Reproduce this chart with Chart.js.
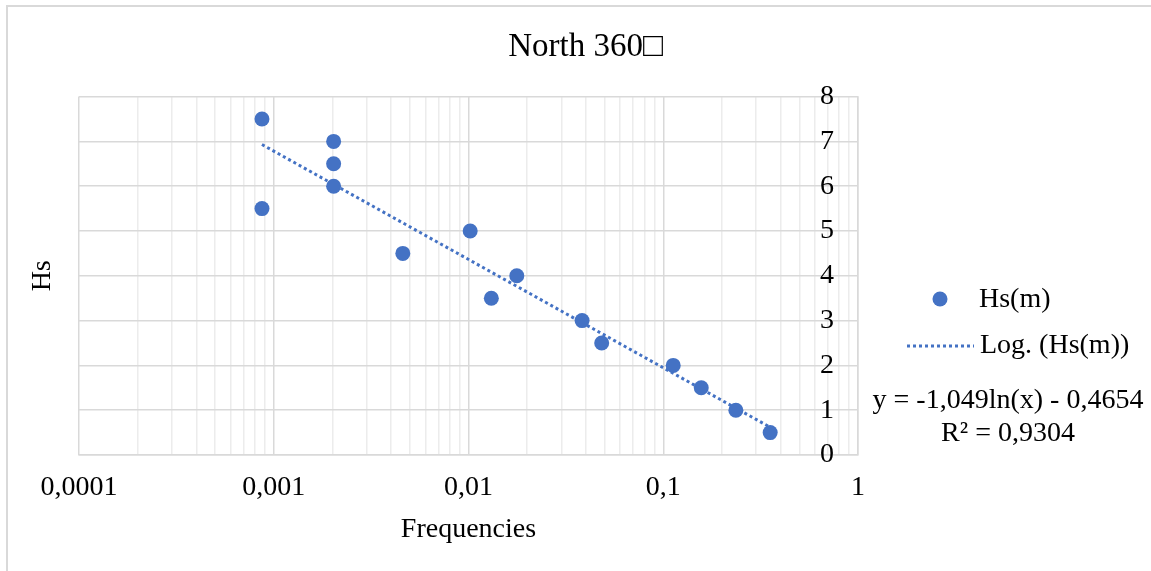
<!DOCTYPE html>
<html>
<head>
<meta charset="utf-8">
<script src="https://cdn.jsdelivr.net/npm/chart.js@4.4.1/dist/chart.umd.min.js"></script>
<style>
  html, body { margin: 0; padding: 0; background: #fff; }
  #wrap { position: relative; width: 1151px; height: 571px; }
</style>
</head>
<body>
<div id="wrap"><canvas id="chart"></canvas></div>
<script>
// ---- data ----
const freq = [0.00087, 0.00087, 0.00203, 0.00203, 0.00203, 0.0046, 0.0102, 0.0131, 0.0177, 0.0383, 0.0483, 0.1125, 0.1567, 0.236, 0.354];
const hs   = [7.5, 5.5, 7, 6.5, 6, 4.5, 5, 3.5, 4, 3, 2.5, 2, 1.5, 1, 0.5];
// logarithmic trend line end points (straight on a log x axis)
const trendFreq = [0.00087, 0.354];
const trendHs   = [6.93, 0.62];
const decades      = [0.0001, 0.001, 0.01, 0.1, 1];
const decadeLabels = ['0,0001', '0,001', '0,01', '0,1', '1'];
const eqLines = ['y = -1,049ln(x) - 0,4654', 'R\u00B2 = 0,9304'];

const BLUE = '#4472C4';
const SERIF = '"Liberation Serif", "Times New Roman", serif';
const MAJOR = '#d9d9d9', MINOR = '#ececec';

const isDecade = v => decades.some(d => Math.abs(v / d - 1) < 1e-6);

// outer frame of the chart (only top and left edges are visible)
const frame = {
  id: 'frame',
  beforeDraw(chart) {
    const ctx = chart.ctx;
    ctx.save();
    ctx.strokeStyle = '#d9d9d9';
    ctx.lineWidth = 2;
    ctx.beginPath();
    ctx.moveTo(7, 571); ctx.lineTo(7, 6); ctx.lineTo(1151, 6);
    ctx.stroke();
    ctx.restore();
  }
};

// legend + trend equation on the right side
const sideLegend = {
  id: 'sideLegend',
  afterDraw(chart) {
    const ctx = chart.ctx;
    const [pts, trend] = chart.data.datasets;
    ctx.save();
    ctx.fillStyle = pts.backgroundColor;
    ctx.beginPath(); ctx.arc(940, 299, 7.5, 0, Math.PI * 2); ctx.fill();

    ctx.strokeStyle = trend.borderColor;
    ctx.lineWidth = trend.borderWidth;
    ctx.setLineDash(trend.borderDash);
    ctx.beginPath(); ctx.moveTo(907, 346); ctx.lineTo(974, 346); ctx.stroke();
    ctx.setLineDash([]);

    ctx.font = '28px ' + SERIF;
    ctx.fillStyle = '#000';
    ctx.textBaseline = 'middle';
    ctx.textAlign = 'left';
    ctx.fillText(pts.label, 979, 300);
    ctx.fillText(trend.label, 980, 346);
    ctx.textAlign = 'center';
    ctx.fillText(eqLines[0], 1008, 401);
    ctx.fillText(eqLines[1], 1008, 434);
    ctx.restore();
  }
};

new Chart(document.getElementById('chart'), {
  type: 'scatter',
  data: {
    datasets: [
      {
        label: 'Hs(m)',
        data: freq.map((f, i) => ({ x: f, y: hs[i] })),
        backgroundColor: BLUE, borderColor: BLUE, borderWidth: 0,
        pointRadius: 7.5, pointHoverRadius: 7.5, order: 1
      },
      {
        label: 'Log. (Hs(m))',
        data: trendFreq.map((f, i) => ({ x: f, y: trendHs[i] })),
        showLine: true, borderColor: BLUE, backgroundColor: BLUE,
        borderWidth: 3, borderDash: [3, 3], pointRadius: 0, order: 2
      }
    ]
  },
  options: {
    responsive: true, maintainAspectRatio: false, animation: false,
    layout: { padding: { left: 20, top: 6, right: 0, bottom: 0 } },
    plugins: {
      legend: { display: false },
      tooltip: { enabled: false },
      title: {
        display: true, text: 'North 360\u25A1', color: '#000',
        font: { family: SERIF, size: 33, weight: 'normal' },
        padding: { top: 22, bottom: 29 }
      }
    },
    scales: {
      x: {
        type: 'logarithmic', min: 0.0001, max: 1,
        afterBuildTicks: s => {
          const t = [];
          decades.forEach(d => {
            t.push({ value: d });
            if (d < 1) for (let k = 2; k <= 9; k++) t.push({ value: k * d });
          });
          s.ticks = t;
        },
        afterFit: s => { s.height = 116; },
        ticks: {
          autoSkip: false, maxRotation: 0, minRotation: 0, padding: 16,
          color: '#000', font: { family: SERIF, size: 28 },
          callback: v => isDecade(v) ? decadeLabels[decades.findIndex(d => Math.abs(v / d - 1) < 1e-6)] : ''
        },
        grid: {
          drawTicks: false, lineWidth: 1.5,
          color: c => (c.tick && isDecade(c.tick.value)) ? MAJOR : MINOR
        },
        border: { color: MAJOR, width: 1.5 },
        title: {
          display: true, text: 'Frequencies', color: '#000',
          font: { family: SERIF, size: 28 }, padding: { top: 0, bottom: 25 }
        }
      },
      y: {
        position: 'right', min: 0, max: 8,
        afterFit: s => { s.width = 293; },
        ticks: {
          stepSize: 1, mirror: true, padding: -24,
          color: '#000', font: { family: SERIF, size: 28 }
        },
        grid: { drawTicks: false, color: MAJOR, lineWidth: 1.5 },
        border: { color: MAJOR, width: 1.5 }
      },
      yTitle: {
        position: 'left', min: 0, max: 8,
        afterFit: s => { s.width = 59; },
        ticks: { display: false },
        grid: { display: false },
        border: { display: false },
        title: {
          display: true, text: 'Hs', color: '#000',
          font: { family: SERIF, size: 28 }, padding: { top: 6, bottom: 0 }
        }
      }
    }
  },
  plugins: [frame, sideLegend]
});
</script>
</body>
</html>
